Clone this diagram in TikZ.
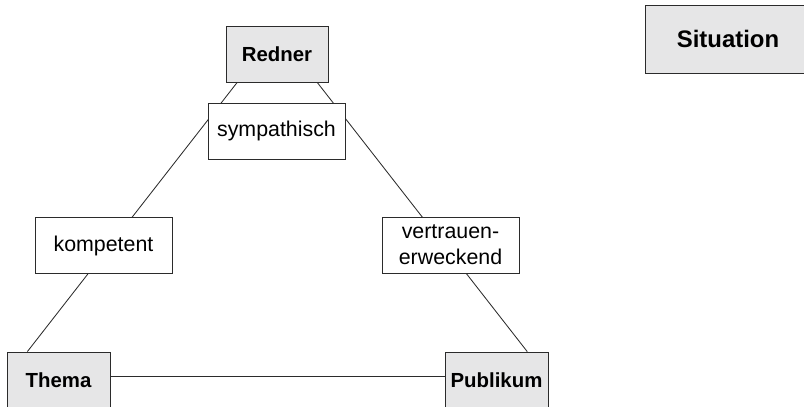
\documentclass[tikz,border=0pt]{standalone}
\usepackage{fontspec}
\setmainfont{Liberation Sans}
\usepackage{xcolor}
\usepackage{tikz}
\usetikzlibrary{positioning,calc,backgrounds}

\definecolor{boxgray}{HTML}{E6E6E7}
\definecolor{linegray}{HTML}{2B2B2B}

\tikzset{
    rolebox/.style={draw=linegray, line width=0.6pt, fill=boxgray, inner sep=0pt,
        minimum height=1.4cm, font=\fontsize{14.5}{17}\selectfont\bfseries},
    traitbox/.style={draw=linegray, line width=0.6pt, fill=white, inner sep=0pt,
        minimum width=3.425cm, minimum height=1.4cm, align=center,
        font=\fontsize{15.2}{18.5}\selectfont},
    link/.style={draw=linegray, line width=0.6pt}
}

\begin{document}
\begin{tikzpicture}
    % Frame (cuts the outer boxes like the page does)
    \useasboundingbox (0,0) rectangle (20.1,10.15);
    \clip (0,0) rectangle (20.1,10.15);

    % Corners of the triangle
    \node[rolebox, minimum width=2.55cm] (redner) at (6.925, 8.8) {Redner};
    \node[rolebox, minimum width=2.575cm] (thema) at (1.4625, 0.65) {Thema};
    \node[rolebox, minimum width=2.575cm] (publikum) at (12.4125, 0.65) {Publikum};
    \node[rolebox, minimum width=4.15cm, minimum height=1.7cm,
        font=\fontsize{17}{20}\selectfont\bfseries] (situation) at (18.2, 9.175) {Situation};

    % Qualities on the sides
    \node[traitbox] (sympathisch) at (6.9125, 6.875) {sympathisch};
    \node[traitbox] (kompetent) at (2.5875, 4.0125) {kompetent};
    \node[traitbox] (vertrauen) at (11.2625, 4.025) {vertrauen-\\erweckend};

    % Sides, behind the boxes
    \begin{pgfonlayer}{background}
        \draw[link] ([xshift=0.29cm]redner.south west) -- ([xshift=0.52cm]thema.north west);
        \draw[link] ([xshift=-0.28cm]redner.south east) -- ([xshift=-0.53cm]publikum.north east);
        \draw[link] ([yshift=0.08cm]thema.east) -- ([yshift=0.08cm]publikum.west);
    \end{pgfonlayer}

\end{tikzpicture}
\end{document}
